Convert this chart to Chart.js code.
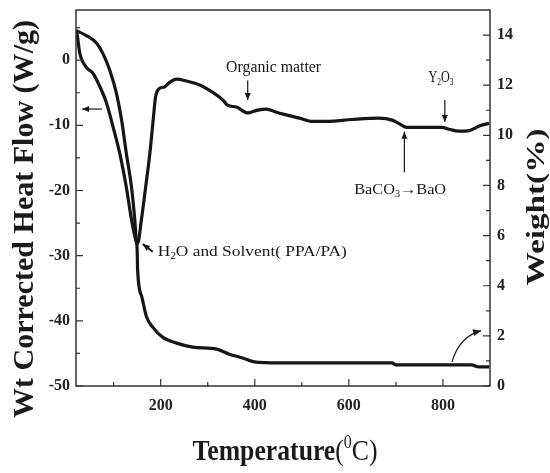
<!DOCTYPE html>
<html>
<head>
<meta charset="utf-8">
<script src="https://cdn.jsdelivr.net/npm/chart.js@4.4.1/dist/chart.umd.min.js"></script>
<style>
  html, body { margin: 0; padding: 0; background: #fff; }
  #wrap { width: 550px; height: 473px; position: relative; }
</style>
</head>
<body>
<div id="wrap"><canvas id="tgaChart"></canvas></div>
<script>
// --- Values ---
const dscTemp = [20, 22, 28, 42, 56, 71, 85, 99, 113, 127, 138, 147, 151, 159, 168, 177, 184, 189, 198, 208, 219, 234, 255, 283, 310, 332, 342, 361, 385, 404, 425, 446, 467, 495, 523, 553, 607, 664, 692, 713, 722, 798, 813, 834, 856, 877, 898];
const dscHeat = [4.45, 4.1, 1.1, -1.1, -2.0, -4.1, -6.6, -10.3, -14.3, -19.5, -24.5, -27.6, -28.1, -24.5, -19.5, -14.3, -9.2, -5.7, -4.3, -4.1, -3.4, -2.9, -3.2, -3.8, -4.9, -6.1, -6.9, -7.2, -8.1, -7.7, -7.5, -8.0, -8.4, -8.9, -9.4, -9.4, -9.1, -8.9, -9.2, -10.0, -10.3, -10.3, -10.6, -10.9, -10.8, -10.1, -9.7];

const tgaTemp = [20, 42, 64, 77, 92, 106, 117, 127, 138, 145, 148, 150, 151, 160, 170, 183, 204, 234, 268, 319, 346, 374, 399, 452, 692, 700, 861, 876, 898];
const tgaWeight = [14.18, 13.98, 13.67, 13.27, 12.59, 11.67, 10.6, 9.28, 7.93, 6.61, 5.82, 5.42, 4.62, 3.55, 2.75, 2.35, 1.95, 1.71, 1.55, 1.47, 1.27, 1.12, 0.96, 0.92, 0.92, 0.84, 0.84, 0.76, 0.76];

const tempTicks = [200, 400, 600, 800];
const tempMinor = [100, 300, 500, 700];
const heatTicks = [-50, -40, -30, -20, -10, 0];
const heatMinor = [-45, -35, -25, -15, -5, 5];
const weightTicks = [0, 2, 4, 6, 8, 10, 12, 14];
const weightMinor = [1, 3, 5, 7, 9, 11, 13];

const INK = '#161616';
const SERIF = "'Liberation Serif', 'Times New Roman', serif";

// --- Text helpers ---
function partFont(p, size) {
    let s = (p.pos === 'sub' || p.pos === 'sup') ? size * 0.62 : size;
    return (p.bold ? 'bold ' : '') + s + 'px ' + SERIF;
}

// draws a run of text parts (with sub/superscripts), squeezed to a target width
function drawParts(ctx, parts, x, y, size, width, align) {
    ctx.save();
    ctx.textBaseline = 'middle';
    ctx.textAlign = 'left';
    let total = 0;
    parts.forEach(p => { ctx.font = partFont(p, size); total += ctx.measureText(p.t).width; });
    let sx = width ? width / total : 1;
    ctx.translate(x, y);
    ctx.scale(sx, 1);
    let cx = align === 'center' ? -total / 2 : 0;
    parts.forEach(p => {
        ctx.font = partFont(p, size);
        let dy = p.pos === 'sub' ? size * 0.3 : (p.pos === 'sup' ? -size * 0.3 : 0);
        ctx.fillText(p.t, cx, dy);
        cx += ctx.measureText(p.t).width;
    });
    ctx.restore();
}

function arrowHead(ctx, x, y, ang, len, half) {
    ctx.beginPath();
    ctx.moveTo(x, y);
    ctx.lineTo(x - len * Math.cos(ang) + half * Math.sin(ang), y - len * Math.sin(ang) - half * Math.cos(ang));
    ctx.lineTo(x - len * Math.cos(ang) - half * Math.sin(ang), y - len * Math.sin(ang) + half * Math.cos(ang));
    ctx.closePath();
    ctx.fill();
}

function drawArrow(ctx, x1, y1, x2, y2, lw) {
    ctx.beginPath();
    ctx.lineWidth = lw || 1.2;
    ctx.moveTo(x1, y1);
    ctx.lineTo(x2, y2);
    ctx.stroke();
    arrowHead(ctx, x2, y2, Math.atan2(y2 - y1, x2 - x1), 7, 3);
}

// --- Annotations (in data units) ---
const labels = [
    { parts: [{ t: 'Organic matter' }], x: 440, y: -1.1, w: 95, size: 16 },
    { parts: [{ t: 'Y' }, { t: '2', pos: 'sub' }, { t: 'O' }, { t: '3', pos: 'sub' }], x: 796, y: -2.6, w: 25, size: 17 },
    { parts: [{ t: 'BaCO' }, { t: '3', pos: 'sub' }, { t: '\u2192' }, { t: 'BaO' }], x: 709, y: -19.9, w: 92, size: 15 },
    { parts: [{ t: 'H' }, { t: '2', pos: 'sub' }, { t: 'O and Solvent( PPA/PA)' }], x: 194, y: -29.4, w: 189, size: 15, left: true }
];
const arrows = [
    { x1: 385, y1: -3.1, x2: 385, y2: -6.1 },
    { x1: 804, y1: -6.1, x2: 804, y2: -9.5 },
    { x1: 718, y1: -17.2, x2: 718, y2: -11.0 },
    { x1: 183, y1: -29.4, x2: 162, y2: -28.2, lw: 2 },
    { x1: 75, y1: -7.5, x2: 33, y2: -7.5 }
];

const framePlugin = {
    id: 'frame',
    afterDraw(chart) {
        const ctx = chart.ctx;
        const a = chart.chartArea;
        const sx = chart.scales.x, sy = chart.scales.y, sw = chart.scales.y1;
        ctx.save();
        ctx.strokeStyle = '#333';
        ctx.fillStyle = INK;
        ctx.lineWidth = 1.5;
        ctx.strokeRect(a.left, a.top, a.right - a.left, a.bottom - a.top);

        // inward tick marks
        ctx.lineWidth = 1.2;
        ctx.beginPath();
        tempTicks.forEach(t => { let px = sx.getPixelForValue(t); ctx.moveTo(px, a.bottom); ctx.lineTo(px, a.bottom - 7); });
        tempMinor.forEach(t => { let px = sx.getPixelForValue(t); ctx.moveTo(px, a.bottom); ctx.lineTo(px, a.bottom - 4); });
        heatTicks.forEach(v => { let py = sy.getPixelForValue(v); ctx.moveTo(a.left, py); ctx.lineTo(a.left + 7, py); });
        heatMinor.forEach(v => { let py = sy.getPixelForValue(v); ctx.moveTo(a.left, py); ctx.lineTo(a.left + 4, py); });
        weightTicks.forEach(v => { let py = sw.getPixelForValue(v); ctx.moveTo(a.right, py); ctx.lineTo(a.right - 7, py); });
        weightMinor.forEach(v => { let py = sw.getPixelForValue(v); ctx.moveTo(a.right, py); ctx.lineTo(a.right - 4, py); });
        ctx.stroke();

        // annotations
        ctx.strokeStyle = INK;
        labels.forEach(l => {
            drawParts(ctx, l.parts, sx.getPixelForValue(l.x), sy.getPixelForValue(l.y), l.size, l.w, l.left ? 'left' : 'center');
        });
        arrows.forEach(r => {
            drawArrow(ctx, sx.getPixelForValue(r.x1), sy.getPixelForValue(r.y1), sx.getPixelForValue(r.x2), sy.getPixelForValue(r.y2), r.lw);
        });
        // curved arrow pointing at the weight axis
        let p0 = [sx.getPixelForValue(819), sw.getPixelForValue(0.96)];
        let pc = [sx.getPixelForValue(836), sw.getPixelForValue(2.0)];
        let p1 = [sx.getPixelForValue(881), sw.getPixelForValue(2.2)];
        ctx.lineWidth = 1.2;
        ctx.beginPath();
        ctx.moveTo(p0[0], p0[1]);
        ctx.quadraticCurveTo(pc[0], pc[1], p1[0], p1[1]);
        ctx.stroke();
        arrowHead(ctx, p1[0], p1[1], Math.atan2(p1[1] - pc[1], p1[0] - pc[0]), 8, 3.5);

        // axis titles
        ctx.fillStyle = '#1a1a1a';
        ctx.save();
        ctx.translate(25, 219);
        ctx.rotate(-Math.PI / 2);
        drawParts(ctx, [{ t: 'Wt Corrected Heat Flow (W/g)', bold: true }], 0, 0, 30, 398, 'center');
        ctx.restore();

        ctx.save();
        ctx.translate(537, 207);
        ctx.rotate(-Math.PI / 2);
        drawParts(ctx, [{ t: 'Weight(%)', bold: true }], 0, 0, 26, 157, 'center');
        ctx.restore();

        drawParts(ctx, [{ t: 'Temperature', bold: true }, { t: '(' }, { t: '0', pos: 'sup' }, { t: 'C)' }], 285, 452, 30, 185, 'center');
        ctx.restore();
    }
};

const tickFont = { family: SERIF, size: 16, weight: 'bold' };
const noPad = s => { s.paddingTop = 0; s.paddingBottom = 0; };

new Chart(document.getElementById('tgaChart'), {
    type: 'scatter',
    data: {
        datasets: [
            {
                label: 'Heat Flow',
                data: dscTemp.map((t, i) => ({ x: t, y: dscHeat[i] })),
                yAxisID: 'y'
            },
            {
                label: 'Weight',
                data: tgaTemp.map((t, i) => ({ x: t, y: tgaWeight[i] })),
                yAxisID: 'y1'
            }
        ]
    },
    options: {
        responsive: true,
        maintainAspectRatio: false,
        animation: false,
        showLine: true,
        layout: { padding: { top: 10, left: 0, right: 0, bottom: 0 } },
        elements: {
            point: { radius: 0 },
            line: { borderColor: INK, borderWidth: 3.2, cubicInterpolationMode: 'monotone', fill: false }
        },
        plugins: { legend: { display: false }, tooltip: { enabled: false } },
        scales: {
            x: {
                type: 'linear', min: 20, max: 900,
                afterBuildTicks: s => { s.ticks = tempTicks.map(v => ({ value: v })); },
                afterFit: s => { s.height = 87; s.paddingLeft = 0; s.paddingRight = 0; },
                grid: { display: false, drawTicks: false },
                border: { display: false },
                ticks: { font: tickFont, color: '#222', padding: 10, autoSkip: false, maxRotation: 0 }
            },
            y: {
                type: 'linear', position: 'left', min: -50, max: 7.7,
                afterBuildTicks: s => { s.ticks = heatTicks.map(v => ({ value: v })); },
                afterFit: s => { s.width = 76; noPad(s); },
                grid: { display: false, drawTicks: false },
                border: { display: false },
                ticks: { font: tickFont, color: '#222', padding: 6, autoSkip: false }
            },
            y1: {
                type: 'linear', position: 'right', min: 0, max: 15,
                afterBuildTicks: s => { s.ticks = weightTicks.map(v => ({ value: v })); },
                afterFit: s => { s.width = 60; noPad(s); },
                grid: { display: false, drawTicks: false },
                border: { display: false },
                ticks: { font: tickFont, color: '#222', padding: 7, autoSkip: false }
            }
        }
    },
    plugins: [framePlugin]
});
</script>
</body>
</html>
